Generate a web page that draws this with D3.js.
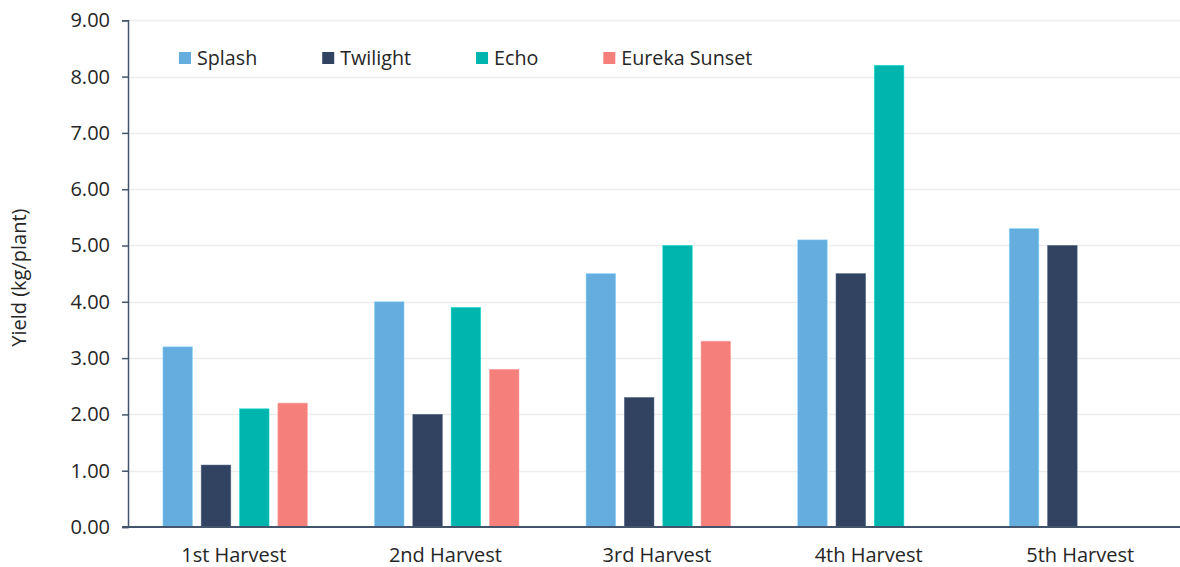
<!DOCTYPE html>
<html>
<head>
<meta charset="utf-8">
<script src="https://cdn.jsdelivr.net/npm/d3@7"></script>
<style>
  html, body { margin: 0; padding: 0; background: #ffffff; }
  svg { display: block; font-family: "Open Sans", "Noto Sans", sans-serif; }
</style>
</head>
<body>
<svg id="chart" width="1180" height="567"></svg>
<script>
// Harvest rounds along the x axis
const harvests = ["1st Harvest", "2nd Harvest", "3rd Harvest", "4th Harvest", "5th Harvest"];

// Varieties (one bar each per harvest)
const varieties = ["Splash", "Twilight", "Echo", "Eureka Sunset"];
const colors = ["#65acdf", "#314361", "#00b5ad", "#f47f7b"];

// Yield in kg per plant for each variety, by harvest (null = not harvested)
const splash       = [3.2, 4.0, 4.5, 5.1, 5.3];
const twilight     = [1.1, 2.0, 2.3, 4.5, 5.0];
const echo         = [2.1, 3.9, 5.0, 8.2, null];
const eurekaSunset = [2.2, 2.8, 3.3, null, null];

// y axis ticks
const yTicks = [0, 1, 2, 3, 4, 5, 6, 7, 8, 9];

const seriesValues = [splash, twilight, echo, eurekaSunset];

const svg = d3.select("#chart");
const W = 1180, H = 567;
const plot = { left: 128, right: 1186, top: 20.3, bottom: 527 };

const x0 = d3.scaleBand().domain(harvests).range([plot.left, plot.right]).padding(0);
const x1 = d3.scaleBand().domain(varieties).range([0, x0.bandwidth()])
  .paddingInner(0.23).paddingOuter(0.876).align(0.52);
const y = d3.scaleLinear().domain([0, 9]).range([plot.bottom, plot.top]);

// horizontal gridlines
svg.append("g")
  .selectAll("line")
  .data(yTicks.filter(d => d > 0))
  .join("line")
  .attr("x1", plot.left).attr("x2", W)
  .attr("y1", d => Math.round(y(d)) + 0.5).attr("y2", d => Math.round(y(d)) + 0.5)
  .attr("stroke", "#ededed").attr("stroke-width", 1.5);

// bars
const rows = [];
varieties.forEach((v, si) => {
  harvests.forEach((h, hi) => {
    const val = seriesValues[si][hi];
    if (val != null) rows.push({ harvest: h, variety: v, value: val, color: colors[si] });
  });
});

svg.append("g")
  .selectAll("rect")
  .data(rows)
  .join("rect")
  .attr("x", d => x0(d.harvest) + x1(d.variety))
  .attr("width", x1.bandwidth())
  .attr("y", d => y(d.value))
  .attr("height", d => y(0) - y(d.value))
  .attr("fill", d => d.color)
  .attr("stroke", d => d3.color(d.color).brighter(0.6))
  .attr("stroke-opacity", 0.6)
  .attr("stroke-width", 0.8);

// y axis
const yAxis = d3.axisLeft(y).tickValues(yTicks).tickFormat(d3.format(".2f"))
  .tickSize(6).tickPadding(12);
const gy = svg.append("g").attr("transform", `translate(${plot.left},0)`).call(yAxis);
gy.select(".domain").attr("stroke", "#44546a").attr("stroke-width", 1.5);
gy.selectAll(".tick line").attr("stroke", "#44546a").attr("stroke-width", 1.5);
gy.selectAll(".tick text")
  .attr("font-size", 20).attr("fill", "#262626")
  .attr("font-family", "'Open Sans', sans-serif");

// x axis baseline
const xAxis = d3.axisBottom(x0).tickSize(0).tickPadding(21);
const gx = svg.append("g").attr("transform", `translate(0,${plot.bottom})`).call(xAxis);
gx.select(".domain").attr("stroke", "#44546a").attr("stroke-width", 2)
  .attr("d", `M${plot.left - 6},0H${W}`);
gx.selectAll(".tick text")
  .attr("font-size", 20).attr("fill", "#262626")
  .attr("font-family", "'Open Sans', sans-serif");

// y axis title
svg.append("text")
  .attr("transform", `translate(26,${(plot.top + plot.bottom) / 2 + 4}) rotate(-90)`)
  .attr("text-anchor", "middle")
  .attr("font-size", 20).attr("fill", "#262626")
  .text("Yield (kg/plant)");

// legend
const legend = svg.append("g");
let lx = 179;
varieties.forEach((v, i) => {
  legend.append("rect")
    .attr("x", lx).attr("y", 52).attr("width", 12).attr("height", 12)
    .attr("fill", colors[i]);
  const t = legend.append("text")
    .attr("x", lx + 18).attr("y", 65)
    .attr("font-size", 19.7).attr("fill", "#262626")
    .text(v);
  lx += 19 + t.node().getComputedTextLength() + 64;
});
</script>
</body>
</html>
